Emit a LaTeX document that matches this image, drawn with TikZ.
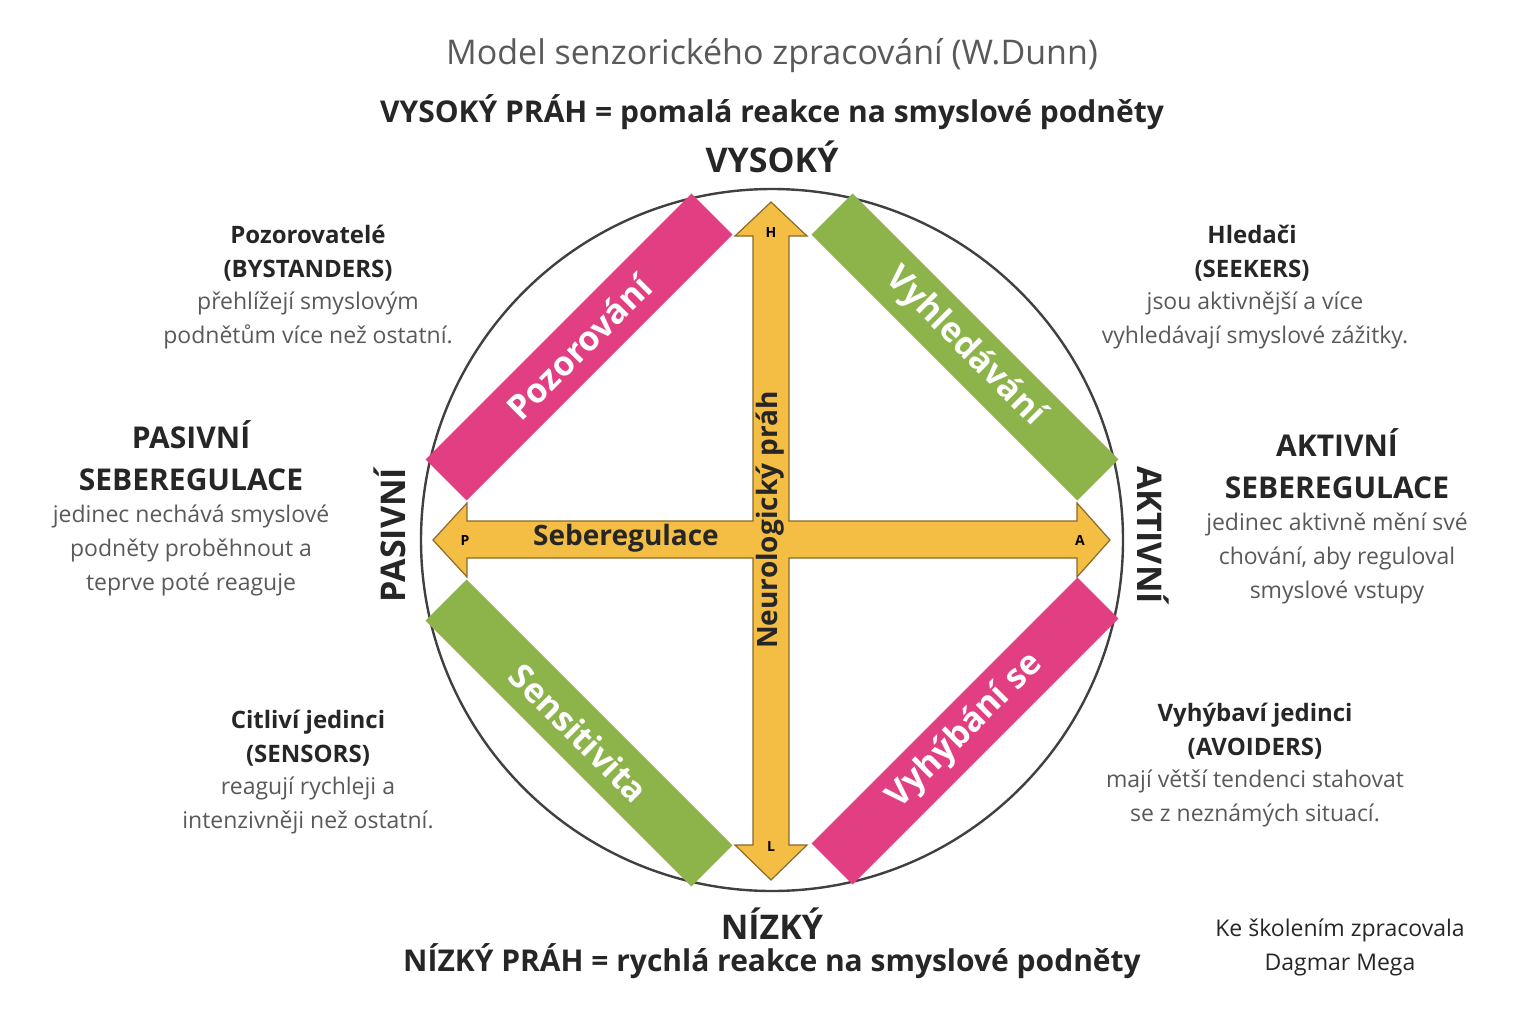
\documentclass[tikz,border=0pt]{standalone}
\usepackage{fontspec}
\setmainfont{Open Sans}
\begin{document}
\begin{tikzpicture}[x=0.5pt,y=-0.5pt,
 mag/.style={fill=magcol,draw=none},
 grn/.style={fill=grncol,draw=none},
 bartxt/.style={text=white,font=\bfseries\fontsize{17}{20}\selectfont},
 hd/.style={font=\bfseries\fontsize{12}{17}\selectfont,text=black!85,align=center},
 bd/.style={font=\fontsize{11.5}{17}\selectfont,text=black!65,align=center},
 big/.style={font=\bfseries\fontsize{15}{21}\selectfont,text=black!85,align=center},
 arr/.style={fill=orcol,draw=orline,line width=0.6pt,line join=miter}]
\definecolor{magcol}{HTML}{E23F83}
\definecolor{grncol}{HTML}{8DB34B}
\definecolor{orcol}{HTML}{F4BD43}
\definecolor{orline}{HTML}{8A6A2A}
\useasboundingbox (0,0) rectangle (1536,1012);
\node[circle,draw=black!75,line width=1.2pt,minimum size=351pt,inner sep=0] (circ) at (772,540) {};
% bars
\node[mag,rotate=45,minimum width=188pt,minimum height=29pt] (poz) at (579,347) {};
\node[bartxt,rotate=45] (pozt) at (579,347) {Pozorování};
\node[grn,rotate=-45,minimum width=188pt,minimum height=29pt] (vyh) at (965,347) {};
\node[bartxt,rotate=-45] (vyht) at (965,347) {Vyhledávání};
\node[grn,rotate=-45,minimum width=188pt,minimum height=29pt] (sen) at (579,733) {};
\node[bartxt,rotate=-45] (sent) at (579,733) {Sensitivita};
\node[mag,rotate=45,minimum width=188pt,minimum height=29pt] (vyb) at (965,731) {};
\node[bartxt,rotate=45] (vybt) at (965,731) {Vyhýbání se};
% arrows
\draw[arr] (771,202) -- (807,236) -- (789,236) -- (789,521) -- (1077,521) -- (1077,503) -- (1110,540) -- (1077,577) -- (1077,558) -- (789,558) -- (789,845) -- (807,845) -- (771,880) -- (735,845) -- (753,845) -- (753,558) -- (467,558) -- (467,577) -- (433,540) -- (467,503) -- (467,521) -- (753,521) -- (753,236) -- (735,236) -- cycle;
\node[font=\bfseries\fontsize{7}{8}\selectfont] (H) at (771,233) {H};
\node[font=\bfseries\fontsize{7}{8}\selectfont] (L) at (771,846) {L};
\node[font=\bfseries\fontsize{7}{8}\selectfont] (P) at (465,540) {P};
\node[font=\bfseries\fontsize{7}{8}\selectfont] (A) at (1080,540) {A};
\node[font=\bfseries\fontsize{14}{16}\selectfont,text=black!85] (seb) at (626,538) {Seberegulace};
\node[font=\bfseries\fontsize{14}{16}\selectfont,text=black!85,rotate=90] (neu) at (770,520) {Neurologický práh};
% titles
\node[font=\fontsize{17}{20}\selectfont,text=black!65] (title) at (772,56) {Model senzorického zpracování (W.Dunn)};
\node[big] (vp) at (772,112) {VYSOKÝ PRÁH = pomalá reakce na smyslové podněty};
\node[big,font=\bfseries\fontsize{17}{20}\selectfont] (vys) at (772,157) {VYSOKÝ};
\node[big,font=\bfseries\fontsize{17}{20}\selectfont] (niz) at (772,924) {NÍZKÝ};
\node[big] (np) at (772,961) {NÍZKÝ PRÁH = rychlá reakce na smyslové podněty};
\node[big,font=\bfseries\fontsize{17}{20}\selectfont,rotate=90] (pas) at (390,535) {PASIVNÍ};
\node[big,font=\bfseries\fontsize{17}{20}\selectfont,rotate=-90] (akt) at (1153,535) {AKTIVNÍ};
% side texts
\node[hd,anchor=north] (t1) at (308,218) {Pozorovatelé\\(BYSTANDERS)};
\node[bd,anchor=north] (t1b) at (308,285) {přehlížejí smyslovým\\podnětům více než ostatní.};
\node[hd,anchor=north] (t2) at (1252,218) {Hledači\\(SEEKERS)};
\node[bd,anchor=north] (t2b) at (1255,285) {jsou aktivnější a více\\vyhledávají smyslové zážitky.};
\node[hd,anchor=north] (t3) at (308,703) {Citliví jedinci\\(SENSORS)};
\node[bd,anchor=north] (t3b) at (308,770) {reagují rychleji a\\intenzivněji než ostatní.};
\node[hd,anchor=north] (t4) at (1255,696) {Vyhýbaví jedinci\\(AVOIDERS)};
\node[bd,anchor=north] (t4b) at (1255,763) {mají větší tendenci stahovat\\se z neznámých situací.};
\node[big,anchor=north] (t5) at (191,413) {PASIVNÍ\\SEBEREGULACE};
\node[bd,anchor=north] (t5b) at (191,498) {jedinec nechává smyslové\\podněty proběhnout a\\teprve poté reaguje};
\node[big,anchor=north] (t6) at (1337,421) {AKTIVNÍ\\SEBEREGULACE};
\node[bd,anchor=north] (t6b) at (1337,506) {jedinec aktivně mění své\\chování, aby reguloval\\smyslové vstupy};
\node[bd,text=black!85,anchor=north] (cr) at (1340,912) {Ke školením zpracovala\\Dagmar Mega};
\end{tikzpicture}
\end{document}
